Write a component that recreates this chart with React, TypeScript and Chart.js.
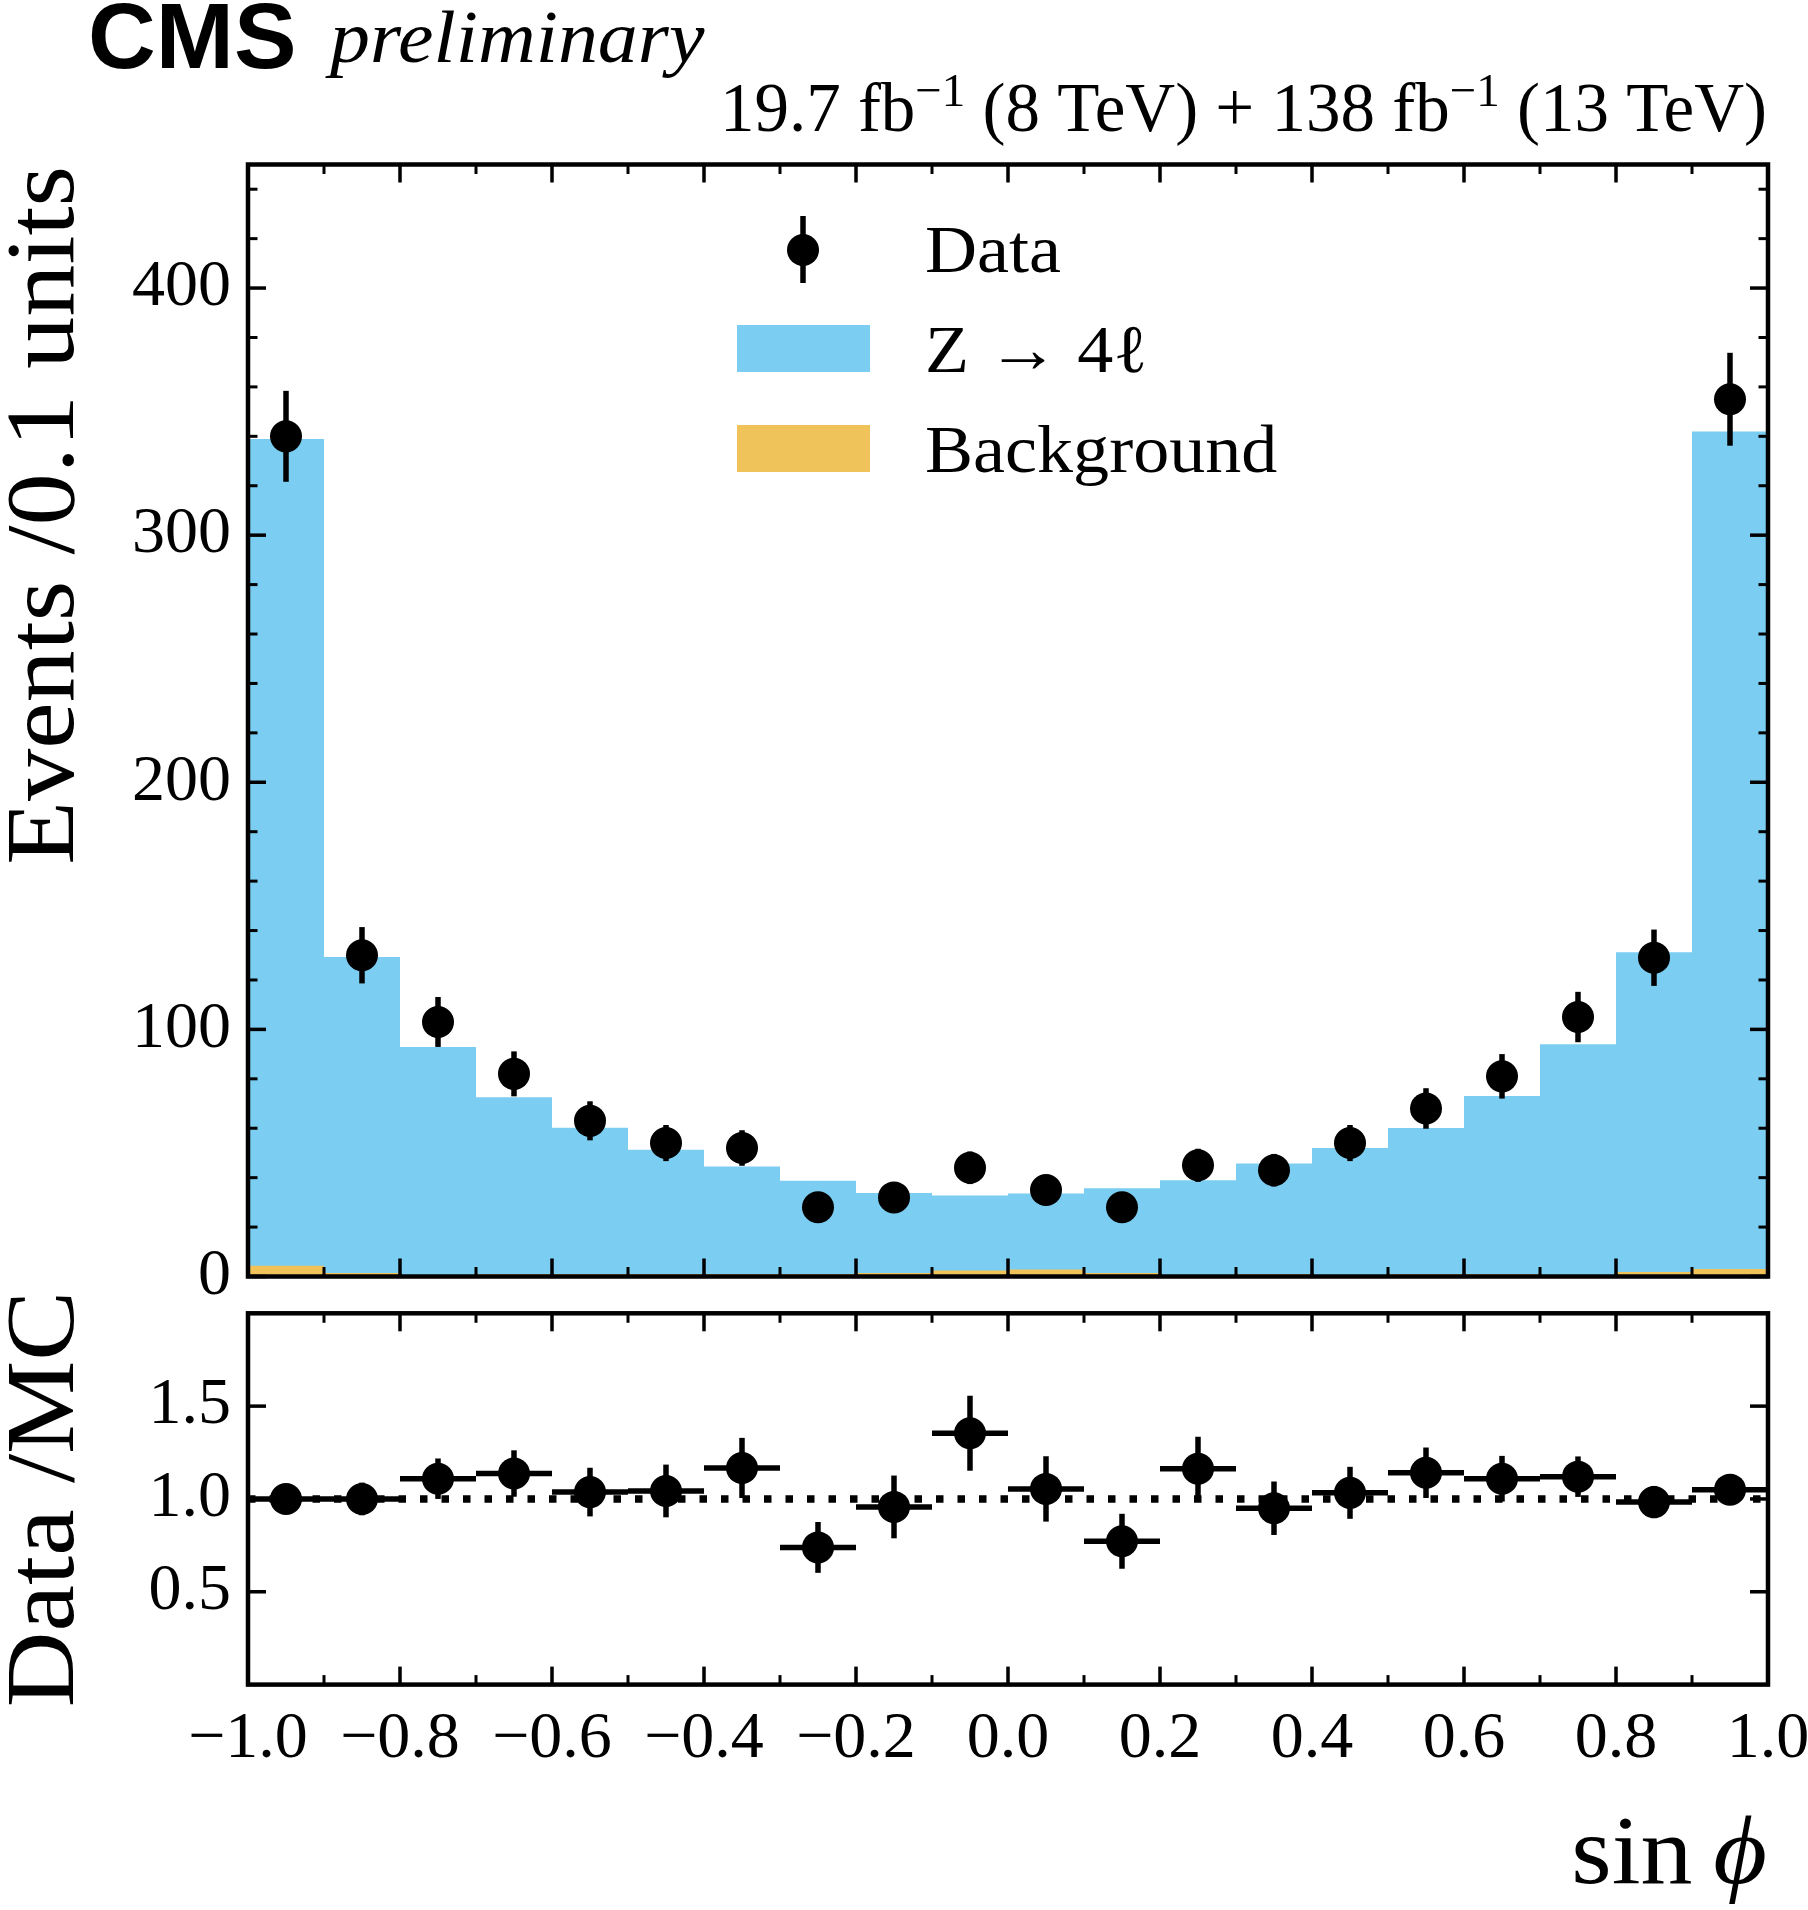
import React, { useEffect, useRef } from 'react';
import { Chart, registerables } from 'chart.js';

Chart.register(...registerables);

// ---------------- data ----------------
const binEdges = [-1.0, -0.9, -0.8, -0.7, -0.6, -0.5, -0.4, -0.3, -0.2, -0.1, 0.0, 0.1, 0.2, 0.3, 0.4, 0.5, 0.6, 0.7, 0.8, 0.9, 1.0];
const binCenters = [-0.95, -0.85, -0.75, -0.65, -0.55, -0.45, -0.35, -0.25, -0.15, -0.05, 0.05, 0.15, 0.25, 0.35, 0.45, 0.55, 0.65, 0.75, 0.85, 0.95];
const dataCounts = [340, 130, 103, 82, 63, 54, 52, 28, 32, 44, 35, 28, 45, 43, 54, 68, 81, 105, 129, 355];
const dataErrors = [18.4, 11.4, 10.1, 9.1, 7.9, 7.3, 7.2, 5.3, 5.7, 6.6, 5.9, 5.3, 6.7, 6.6, 7.3, 8.2, 9.0, 10.2, 11.4, 18.8];
const zTo4l = [334.6, 127.9, 92.4, 71.5, 59.2, 50.3, 43.5, 37.7, 32.4, 30.4, 30.8, 34.3, 38.4, 44.7, 51.5, 59.1, 72.0, 93.5, 129.4, 339.0];
const background = [4.3, 1.4, 0.5, 1.0, 1.0, 1.0, 1.0, 1.0, 1.4, 2.4, 2.8, 1.4, 0.5, 1.0, 0.5, 1.0, 1.0, 0.5, 1.8, 3.0];
const ratioValues = [1.0, 1.0, 1.109, 1.137, 1.037, 1.043, 1.167, 0.739, 0.957, 1.354, 1.054, 0.772, 1.163, 0.95, 1.033, 1.141, 1.109, 1.12, 0.983, 1.05];
const ratioErrors = [0.054, 0.088, 0.109, 0.125, 0.131, 0.142, 0.162, 0.137, 0.169, 0.202, 0.176, 0.148, 0.172, 0.144, 0.14, 0.136, 0.123, 0.109, 0.087, 0.055];

const xMajorTicks = [-1.0, -0.8, -0.6, -0.4, -0.2, 0.0, 0.2, 0.4, 0.6, 0.8, 1.0];
const xMinorTicks = [-0.9, -0.7, -0.5, -0.3, -0.1, 0.1, 0.3, 0.5, 0.7, 0.9];
const mainYMajor = [0, 100, 200, 300, 400];
const ratioYMajor = [0.5, 1.0, 1.5];

// ---------------- style ----------------
const W = 1808;
const H = 1910;
const SERIF = '"Liberation Serif", "DejaVu Serif", serif';
const SANS = '"Liberation Sans", Arial, sans-serif';
const BLUE = '#7BCDF1';
const ORANGE = '#F0C35A';
const MAIN_AREA = { left: 248, right: 1768, top: 164.5, bottom: 1276.5 };
const RATIO_AREA = { left: 248, right: 1768, top: 1313.3, bottom: 1684.6 };
const TICK_FONT = 66;
const LABEL_FONT = 98;
const LEGEND_FONT = 68;

Chart.defaults.font.family = SERIF;

function seg(ctx: CanvasRenderingContext2D, x1: number, y1: number, x2: number, y2: number) {
  ctx.beginPath();
  ctx.moveTo(x1, y1);
  ctx.lineTo(x2, y2);
  ctx.stroke();
}

function txt(ctx: CanvasRenderingContext2D, s: string, x: number, y: number, align: CanvasTextAlign, sx = 1) {
  ctx.save();
  ctx.translate(x, y);
  ctx.scale(sx, 1);
  ctx.textAlign = align;
  ctx.fillText(s, 0, 0);
  ctx.restore();
}

function stepPoints(vals: number[]) {
  return binEdges.map((e, i) => ({ x: e, y: vals[Math.min(i, vals.length - 1)] }));
}

function drawFrame(chart: any, yMajor: number[], yMinorStep: number | null, yMax: number) {
  const { ctx, chartArea: a, scales } = chart;
  const xs = scales.x;
  const ys = scales.y;
  ctx.save();
  ctx.strokeStyle = '#000';
  ctx.lineCap = 'butt';
  const majLen = 18;
  const minLen = 9.5;
  ctx.lineWidth = 3.5;
  xMajorTicks.forEach((v) => {
    const p = xs.getPixelForValue(v);
    seg(ctx, p, a.bottom, p, a.bottom - majLen);
    seg(ctx, p, a.top, p, a.top + majLen);
  });
  yMajor.forEach((v) => {
    const p = ys.getPixelForValue(v);
    seg(ctx, a.left, p, a.left + majLen, p);
    seg(ctx, a.right, p, a.right - majLen, p);
  });
  ctx.lineWidth = 3;
  xMinorTicks.forEach((v) => {
    const p = xs.getPixelForValue(v);
    seg(ctx, p, a.bottom, p, a.bottom - minLen);
    seg(ctx, p, a.top, p, a.top + minLen);
  });
  if (yMinorStep) {
    for (let v = yMinorStep; v < yMax; v += yMinorStep) {
      if (Math.abs(v / 100 - Math.round(v / 100)) < 1e-9) continue;
      const p = ys.getPixelForValue(v);
      seg(ctx, a.left, p, a.left + minLen, p);
      seg(ctx, a.right, p, a.right - minLen, p);
    }
  }
  ctx.lineWidth = 4.5;
  ctx.strokeRect(a.left, a.top, a.right - a.left, a.bottom - a.top);
  ctx.restore();
}

function drawTexts(ctx: CanvasRenderingContext2D) {
  ctx.save();
  ctx.fillStyle = '#000';
  ctx.textBaseline = 'alphabetic';
  // CMS preliminary
  ctx.font = `bold 92px ${SANS}`;
  txt(ctx, 'CMS', 88, 68, 'left', 1.02);
  ctx.font = `italic 74px ${SERIF}`;
  txt(ctx, 'preliminary', 330, 62, 'left', 1.08);

  // luminosity
  const pieces = [
    { t: '19.7 fb', sup: false },
    { t: '\u22121', sup: true },
    { t: ' (8 TeV) + 138 fb', sup: false },
    { t: '\u22121', sup: true },
    { t: ' (13 TeV)', sup: false },
  ];
  const mainF = `69px ${SERIF}`;
  const supF = `47px ${SERIF}`;
  let total = 0;
  const widths = pieces.map((p) => {
    ctx.font = p.sup ? supF : mainF;
    const w = ctx.measureText(p.t).width;
    total += w;
    return w;
  });
  let x = 1767 - total;
  pieces.forEach((p, i) => {
    ctx.font = p.sup ? supF : mainF;
    txt(ctx, p.t, x, p.sup ? 106 : 131, 'left');
    x += widths[i];
  });

  // y labels (rotated)
  ctx.font = `${LABEL_FONT}px ${SERIF}`;
  ctx.save();
  ctx.translate(73, 166);
  ctx.rotate(-Math.PI / 2);
  txt(ctx, 'Events /0.1 units', 0, 0, 'right', 1.065);
  ctx.restore();

  ctx.save();
  ctx.translate(73, (RATIO_AREA.top + RATIO_AREA.bottom) / 2);
  ctx.rotate(-Math.PI / 2);
  txt(ctx, 'Data /MC', 0, 0, 'center', 1.07);
  ctx.restore();

  // x label
  const sx = 1.06;
  ctx.font = `italic ${LABEL_FONT}px ${SERIF}`;
  const phiW = ctx.measureText('\u03D5').width * sx;
  ctx.font = `${LABEL_FONT}px ${SERIF}`;
  const sinW = ctx.measureText('sin\u2009').width * sx;
  const x0 = 1767 - phiW - sinW;
  txt(ctx, 'sin\u2009', x0, 1883, 'left', sx);
  ctx.font = `italic ${LABEL_FONT}px ${SERIF}`;
  txt(ctx, '\u03D5', x0 + sinW, 1883, 'left', sx);

  // legend
  ctx.font = `${LEGEND_FONT}px ${SERIF}`;
  ctx.lineWidth = 5.5;
  ctx.strokeStyle = '#000';
  seg(ctx, 803, 216, 803, 283);
  ctx.beginPath();
  ctx.arc(803, 250, 16, 0, Math.PI * 2);
  ctx.fill();
  txt(ctx, 'Data', 925, 272, 'left', 1.06);
  ctx.fillStyle = BLUE;
  ctx.fillRect(737, 325, 133, 47);
  ctx.fillStyle = ORANGE;
  ctx.fillRect(737, 425, 133, 47);
  ctx.fillStyle = '#000';
  txt(ctx, 'Z \u2192 4\u2113', 925, 372, 'left', 1.06);
  txt(ctx, 'Background', 925, 472, 'left', 1.06);
  ctx.restore();
}

const fixedY = (w: number) => (s: any) => {
  s.width = w;
  s.paddingTop = 0;
  s.paddingBottom = 0;
};
const fixedX = (h: number) => (s: any) => {
  s.height = h;
  s.paddingLeft = 0;
  s.paddingRight = 0;
};

function mainConfig(): any {
  const stackTop = zTo4l.map((v, i) => v + background[i]);
  return {
    type: 'line',
    data: {
      datasets: [
        {
          label: 'Data',
          data: binCenters.map((x, i) => ({ x, y: dataCounts[i] })),
          showLine: false,
          pointRadius: 16,
          pointBackgroundColor: '#000',
          pointBorderWidth: 0,
          fill: false,
          order: 0,
        },
        {
          label: 'Background',
          data: stepPoints(background),
          stepped: 'before',
          fill: 'origin',
          backgroundColor: ORANGE,
          borderColor: 'rgba(0,0,0,0)',
          borderWidth: 0,
          pointRadius: 0,
          order: 1,
        },
        {
          label: 'Z \u2192 4\u2113',
          data: stepPoints(stackTop),
          stepped: 'before',
          fill: 'origin',
          backgroundColor: BLUE,
          borderColor: 'rgba(0,0,0,0)',
          borderWidth: 0,
          pointRadius: 0,
          order: 2,
        },
      ],
    },
    options: {
      responsive: false,
      maintainAspectRatio: false,
      animation: false,
      events: [],
      layout: {
        autoPadding: false,
        padding: { left: 0, top: MAIN_AREA.top, right: W - MAIN_AREA.right, bottom: H - MAIN_AREA.bottom },
      },
      plugins: { legend: { display: false }, tooltip: { enabled: false } },
      scales: {
        x: {
          type: 'linear',
          min: -1,
          max: 1,
          grid: { display: false },
          border: { display: false },
          ticks: { display: false },
          afterFit: fixedX(0),
        },
        y: {
          type: 'linear',
          min: 0,
          max: 450,
          grid: { display: false },
          border: { display: false },
          ticks: {
            stepSize: 100,
            includeBounds: false,
            padding: 9,
            color: '#000',
            font: { family: SERIF, size: TICK_FONT },
            callback: (v: number) => (mainYMajor.includes(v) ? String(v) : ''),
          },
          afterFit: fixedY(MAIN_AREA.left),
        },
      },
    },
    plugins: [
      {
        id: 'mainExtras',
        afterDatasetsDraw(chart: any) {
          const { ctx, scales } = chart;
          ctx.save();
          ctx.strokeStyle = '#000';
          ctx.lineWidth = 5.5;
          binCenters.forEach((c, i) => {
            const px = scales.x.getPixelForValue(c);
            seg(
              ctx,
              px,
              scales.y.getPixelForValue(dataCounts[i] - dataErrors[i]),
              px,
              scales.y.getPixelForValue(dataCounts[i] + dataErrors[i])
            );
          });
          ctx.restore();
        },
        afterDraw(chart: any) {
          drawFrame(chart, mainYMajor, 20, 450);
          drawTexts(chart.ctx);
        },
      },
    ],
  };
}

function ratioConfig(): any {
  return {
    type: 'line',
    data: {
      datasets: [
        {
          label: 'Data/MC',
          data: binCenters.map((x, i) => ({ x, y: ratioValues[i] })),
          showLine: false,
          pointRadius: 16,
          pointBackgroundColor: '#000',
          pointBorderWidth: 0,
          fill: false,
          order: 0,
        },
        {
          label: 'unity',
          data: [
            { x: -1, y: 1 },
            { x: 1, y: 1 },
          ],
          borderColor: '#000',
          borderWidth: 7.5,
          borderDash: [7.5, 14],
          borderCapStyle: 'butt',
          pointRadius: 0,
          fill: false,
          order: 1,
        },
      ],
    },
    options: {
      responsive: false,
      maintainAspectRatio: false,
      animation: false,
      events: [],
      layout: {
        autoPadding: false,
        padding: { left: 0, top: RATIO_AREA.top, right: W - RATIO_AREA.right, bottom: 0 },
      },
      plugins: { legend: { display: false }, tooltip: { enabled: false } },
      scales: {
        x: {
          type: 'linear',
          min: -1,
          max: 1,
          grid: { display: false },
          border: { display: false },
          ticks: {
            stepSize: 0.2,
            padding: 7,
            maxRotation: 0,
            autoSkip: false,
            color: '#000',
            font: { family: SERIF, size: TICK_FONT },
            callback: (v: number) => {
              const r = Math.round(v * 10) / 10;
              if (Math.abs(r) < 1e-9) return '0.0';
              return (r < 0 ? '\u2212' : '') + Math.abs(r).toFixed(1);
            },
          },
          afterFit: fixedX(H - RATIO_AREA.bottom),
        },
        y: {
          type: 'linear',
          min: 0,
          max: 2,
          grid: { display: false },
          border: { display: false },
          ticks: {
            stepSize: 0.5,
            padding: 9,
            color: '#000',
            font: { family: SERIF, size: TICK_FONT },
            callback: (v: number) => (ratioYMajor.some((t) => Math.abs(t - v) < 1e-9) ? v.toFixed(1) : ''),
          },
          afterFit: fixedY(RATIO_AREA.left),
        },
      },
    },
    plugins: [
      {
        id: 'ratioExtras',
        afterDatasetsDraw(chart: any) {
          const { ctx, scales } = chart;
          ctx.save();
          ctx.strokeStyle = '#000';
          ctx.lineWidth = 5.5;
          binCenters.forEach((c, i) => {
            const px = scales.x.getPixelForValue(c);
            const py = scales.y.getPixelForValue(ratioValues[i]);
            seg(
              ctx,
              px,
              scales.y.getPixelForValue(ratioValues[i] - ratioErrors[i]),
              px,
              scales.y.getPixelForValue(ratioValues[i] + ratioErrors[i])
            );
            seg(ctx, scales.x.getPixelForValue(binEdges[i]), py, scales.x.getPixelForValue(binEdges[i + 1]), py);
          });
          ctx.restore();
        },
        afterDraw(chart: any) {
          drawFrame(chart, ratioYMajor, null, 2);
        },
      },
    ],
  };
}

export default function App() {
  const mainRef = useRef<HTMLCanvasElement>(null);
  const ratioRef = useRef<HTMLCanvasElement>(null);
  useEffect(() => {
    const main = new Chart(mainRef.current as HTMLCanvasElement, mainConfig());
    const ratio = new Chart(ratioRef.current as HTMLCanvasElement, ratioConfig());
    return () => {
      main.destroy();
      ratio.destroy();
    };
  }, []);
  const cs: React.CSSProperties = { position: 'absolute', left: 0, top: 0, width: W, height: H };
  return (
    <div style={{ position: 'absolute', left: 0, top: 0, width: W, height: H, background: '#fff' }}>
      <canvas ref={mainRef} width={W} height={H} style={cs} />
      <canvas ref={ratioRef} width={W} height={H} style={cs} />
    </div>
  );
}
